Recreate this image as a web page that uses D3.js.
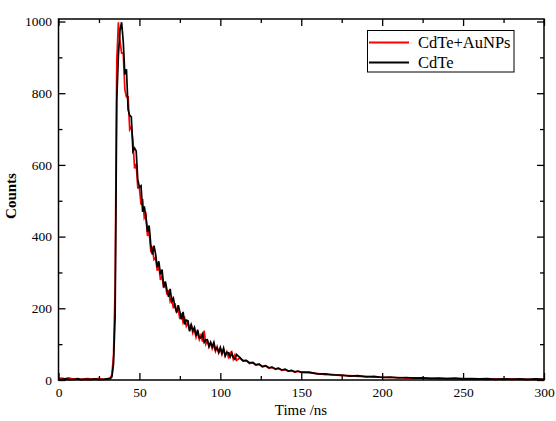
<!DOCTYPE html>
<html>
<head>
<meta charset="utf-8">
<script src="https://cdn.jsdelivr.net/npm/d3@7"></script>
<style>
  body { margin: 0; background: #fff; }
  text { font-family: "Liberation Serif", "Times New Roman", serif; }
</style>
</head>
<body>
<script>
// time channels (ns)
var times = [
  0, 2, 4, 6, 8, 10, 12, 14, 16, 18, 20, 22, 24, 26, 28, 30, 32,
  33, 34, 35, 36, 37, 38, 39, 40, 41, 42, 43, 44, 45, 46, 47, 48, 49, 50,
  51, 52, 53, 54, 55, 56, 57, 58, 59, 60, 61, 62, 63, 64, 65, 66, 67, 68, 69, 70,
  71, 72, 73, 74, 75, 76, 77, 78, 79, 80, 81, 82, 83, 84, 85, 86, 87, 88, 89, 90,
  91, 92, 93, 94, 95, 96, 97, 98, 99, 100, 101, 102, 103, 104, 105, 106, 107, 108, 109, 110,
  112, 114, 116, 118, 120, 122, 124, 126, 128, 130, 132, 134, 136, 138, 140, 142, 144, 146, 148, 150,
  155, 160, 165, 170, 175, 180, 185, 190, 195, 200, 205, 210, 215, 220, 225,
  230, 235, 240, 245, 250, 255, 260, 265, 270, 275, 280, 285, 290, 295, 300
];

// CdTe+AuNPs counts
var countsAu = [
  4, 5, 3, 6, 4, 3, 4, 2, 3, 4, 3, 2, 4, 3, 2, 3, 6,
  14, 70, 260, 890, 998, 945, 912, 912, 810, 790, 790, 699, 707, 668, 590, 603, 536, 536,
  489, 505, 452, 461, 402, 415, 361, 368, 336, 341, 305, 318, 279, 292, 257, 271, 238, 251, 219, 228,
  200, 214, 190, 197, 170, 186, 160, 172, 150, 159, 139, 156, 131, 141, 119, 133, 113, 125, 107, 138,
  100, 110, 92, 104, 87, 99, 80, 93, 76, 88, 71, 84, 68, 79, 64, 76, 79, 58, 70, 55,
  61, 53, 54, 46, 48, 41, 44, 36, 39, 33, 35, 30, 32, 27, 29, 25, 26, 22, 24, 21,
  20, 18, 15, 15, 12, 12, 10, 10, 8, 8, 7, 7, 5, 6, 5,
  5, 4, 4, 3, 4, 3, 3, 2, 3, 2, 3, 2, 2, 2, 2
];

// CdTe counts
var countsCdTe = [
  2, 1, 3, 2, 1, 2, 3, 1, 2, 2, 1, 3, 2, 1, 2, 3, 4,
  9, 45, 180, 780, 905, 975, 998, 945, 852, 867, 754, 738, 734, 638, 647, 639, 558, 538,
  542, 469, 484, 455, 413, 431, 379, 350, 375, 351, 315, 331, 294, 308, 259, 275, 252, 232, 254, 219,
  228, 204, 188, 209, 190, 169, 190, 155, 167, 165, 136, 154, 138, 147, 124, 140, 118, 118, 128, 105,
  112, 112, 94, 105, 93, 105, 84, 90, 77, 91, 75, 89, 67, 77, 76, 64, 75, 63, 58, 71,
  63, 54, 55, 48, 49, 43, 44, 38, 40, 34, 36, 31, 33, 28, 30, 25, 27, 23, 25, 22,
  22, 17, 17, 14, 14, 11, 12, 9, 10, 7, 8, 6, 7, 5, 6,
  4, 5, 4, 5, 3, 4, 3, 4, 2, 3, 2, 3, 2, 3, 2
];

var xMajor = [0, 50, 100, 150, 200, 250, 300];
var xMinor = [25, 75, 125, 175, 225, 275];
var yMajor = [0, 200, 400, 600, 800, 1000];
var yMinor = [100, 300, 500, 700, 900];

var seriesNames = ["CdTe+AuNPs", "CdTe"];
var seriesColors = ["#ff0000", "#000000"];

var svg = d3.select("body").append("svg")
    .attr("width", 556)
    .attr("height", 421);

var x = d3.scaleLinear().domain([0, 300]).range([58.5, 544]);
var y = d3.scaleLinear().domain([0, 1007]).range([380, 19]);

// curves
var line = d3.line()
    .x(function(d) { return x(d[0]); })
    .y(function(d) { return y(d[1]); });

[countsAu, countsCdTe].forEach(function(vals, i) {
  svg.append("path")
      .datum(times.map(function(t, j) { return [t, vals[j]]; }))
      .attr("fill", "none")
      .attr("stroke", seriesColors[i])
      .attr("stroke-width", 1.7)
      .attr("stroke-linejoin", "miter")
      .attr("d", line);
});

// axes, ticks pointing inward
function styleAxis(g) {
  g.attr("font-family", "Liberation Serif").attr("font-size", 13.5);
  g.select(".domain").remove();
  g.selectAll(".tick line").attr("stroke", "#000").attr("stroke-width", 1.3);
  g.selectAll("text").attr("fill", "#000");
}
var fmt = d3.format("d");

svg.append("g").attr("transform", "translate(0,380)")
    .call(d3.axisBottom(x).tickValues(xMajor).tickFormat(fmt).tickSizeInner(-7).tickSizeOuter(0).tickPadding(7.5))
    .call(styleAxis);
svg.append("g").attr("transform", "translate(0,380)")
    .call(d3.axisBottom(x).tickValues(xMinor).tickSizeInner(-4).tickSizeOuter(0).tickFormat(""))
    .call(styleAxis);
svg.append("g").attr("transform", "translate(0,19)")
    .call(d3.axisTop(x).tickValues(xMajor).tickSizeInner(-7).tickSizeOuter(0).tickFormat(""))
    .call(styleAxis);
svg.append("g").attr("transform", "translate(0,19)")
    .call(d3.axisTop(x).tickValues(xMinor).tickSizeInner(-4).tickSizeOuter(0).tickFormat(""))
    .call(styleAxis);

svg.append("g").attr("transform", "translate(58.5,0)")
    .call(d3.axisLeft(y).tickValues(yMajor).tickFormat(fmt).tickSizeInner(-7).tickSizeOuter(0).tickPadding(6.5))
    .call(styleAxis);
svg.append("g").attr("transform", "translate(58.5,0)")
    .call(d3.axisLeft(y).tickValues(yMinor).tickSizeInner(-4).tickSizeOuter(0).tickFormat(""))
    .call(styleAxis);
svg.append("g").attr("transform", "translate(544,0)")
    .call(d3.axisRight(y).tickValues(yMajor).tickSizeInner(-7).tickSizeOuter(0).tickFormat(""))
    .call(styleAxis);
svg.append("g").attr("transform", "translate(544,0)")
    .call(d3.axisRight(y).tickValues(yMinor).tickSizeInner(-4).tickSizeOuter(0).tickFormat(""))
    .call(styleAxis);

// frame
svg.append("rect")
    .attr("x", 58.5).attr("y", 19)
    .attr("width", 544 - 58.5).attr("height", 380 - 19)
    .attr("fill", "none").attr("stroke", "#000").attr("stroke-width", 1.5);

// axis titles
svg.append("text")
    .attr("x", 301).attr("y", 415)
    .attr("text-anchor", "middle")
    .style("font-size", "15px")
    .text("Time /ns");

svg.append("text")
    .attr("transform", "translate(16,196) rotate(-90)")
    .attr("text-anchor", "middle")
    .style("font-size", "15px")
    .style("font-weight", "bold")
    .text("Counts");

// legend
var legend = svg.append("g");
legend.append("rect")
    .attr("x", 367.5).attr("y", 30.5)
    .attr("width", 146.5).attr("height", 41.5)
    .attr("fill", "#fff").attr("stroke", "#000").attr("stroke-width", 1);

seriesNames.forEach(function(name, i) {
  var ly = 42.5 + i * 20;
  legend.append("line")
      .attr("x1", 369).attr("x2", 409)
      .attr("y1", ly).attr("y2", ly)
      .attr("stroke", seriesColors[i])
      .attr("stroke-width", 2);
  legend.append("text")
      .attr("x", 418).attr("y", ly + 5.5)
      .style("font-size", "16.5px")
      .text(name);
});
</script>
</body>
</html>
